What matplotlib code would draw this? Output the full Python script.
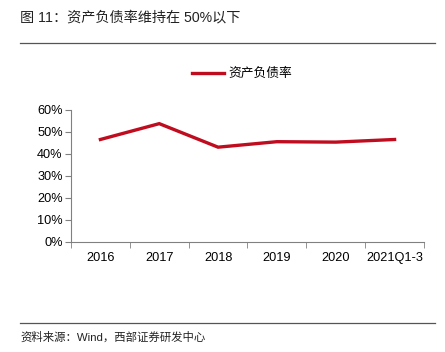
import numpy as np
import matplotlib.pyplot as plt
from matplotlib.ticker import FuncFormatter, FixedLocator

plt.rcParams['font.family'] = ['Liberation Sans', 'Noto Sans CJK SC']

categories = ['2016', '2017', '2018', '2019', '2020', '2021Q1-3']
debt_ratio = [46.6, 53.8, 43.1, 45.6, 45.4, 46.6]

fig = plt.figure(figsize=(4.45, 3.52), dpi=100)
W, H = 445, 352
ax = fig.add_axes([71 / W, 1 - 242 / H, (424 - 71) / W, (242 - 110) / H])

x = np.arange(len(categories))
ax.plot(x, debt_ratio, color='#C00C1F', linewidth=2.4, solid_joinstyle='miter')

ax.set_xlim(-0.5, len(categories) - 0.5)
ax.set_ylim(0, 60)
ax.set_yticks(np.arange(0, 61, 10))
ax.yaxis.set_major_formatter(FuncFormatter(lambda v, p: '%d%%' % v))
ax.set_xticks(x)
ax.set_xticklabels(categories)
ax.xaxis.set_minor_locator(FixedLocator(np.arange(-0.5, len(categories), 1)))
ax.tick_params(axis='x', which='major', length=0, pad=7, labelsize=9.2)
ax.tick_params(axis='x', which='minor', length=4, color='#808080', direction='out')
ax.tick_params(axis='y', length=4, color='#808080', labelsize=9.2, pad=2)
for s in ['top', 'right']:
    ax.spines[s].set_visible(False)
for s in ['left', 'bottom']:
    ax.spines[s].set_color('#808080')
    ax.spines[s].set_linewidth(0.8)

# legend
fig.legend(['资产负债率'], loc='center', bbox_to_anchor=(242 / W, 1 - 74 / H),
           frameon=False, fontsize=9.2, handlelength=2.5, handletextpad=0.3)

# title and source
fig.text(20 / W, 1 - 17 / H, '图 11：资产负债率维持在 50%以下', fontsize=10.2,
         va='center', ha='left', color='#222222')
fig.add_artist(plt.Line2D([20 / W, 435 / W], [1 - 42.5 / H, 1 - 42.5 / H],
                          color='#555555', linewidth=0.9))
fig.add_artist(plt.Line2D([20 / W, 435 / W], [1 - 323 / H, 1 - 323 / H],
                          color='#555555', linewidth=0.9))
fig.text(20 / W, 1 - 337 / H, '资料来源：Wind，西部证券研发中心', fontsize=8.2,
         va='center', ha='left', color='#222222')

fig.savefig('out.png', dpi=100)
